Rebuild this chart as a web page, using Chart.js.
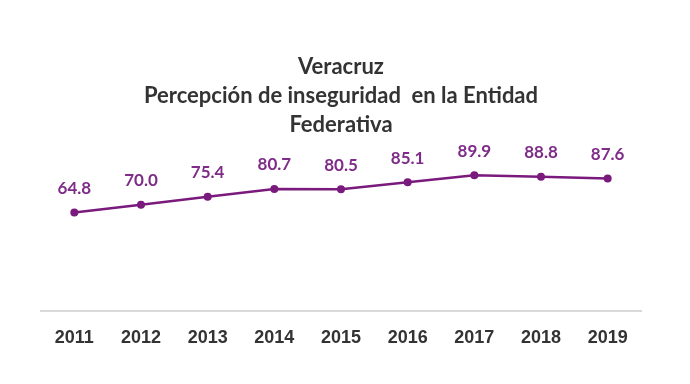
<!DOCTYPE html>
<html>
<head>
<meta charset="utf-8">
<script src="https://cdn.jsdelivr.net/npm/chart.js@4.4.1/dist/chart.umd.min.js"></script>
<style>
  html, body { margin: 0; padding: 0; background: #fff; }
  #wrap { width: 690px; height: 384px; }
</style>
</head>
<body>
<div id="wrap"><canvas id="chart"></canvas></div>
<script>
// chart data
const years = ['2011', '2012', '2013', '2014', '2015', '2016', '2017', '2018', '2019'];
const percepcion = [64.8, 70.0, 75.4, 80.7, 80.5, 85.1, 89.9, 88.8, 87.6];
const titleLines = ['Veracruz', 'Percepción de inseguridad  en la Entidad', 'Federativa'];

const purple = '#7a1a7c';

// simple value labels above each point
const valueLabels = {
  id: 'valueLabels',
  afterDatasetsDraw(chart) {
    const { ctx } = chart;
    const meta = chart.getDatasetMeta(0);
    ctx.save();
    ctx.font = 'bold 17px Lato';
    ctx.fillStyle = '#7e2c88';
    ctx.textAlign = 'center';
    ctx.textBaseline = 'middle';
    meta.data.forEach((pt, i) => {
      ctx.fillText(percepcion[i].toFixed(1), pt.x, pt.y - 24);
    });
    ctx.restore();
  }
};

new Chart(document.getElementById('chart'), {
  type: 'line',
  data: {
    labels: years,
    datasets: [{
      data: percepcion,
      borderColor: purple,
      backgroundColor: purple,
      borderWidth: 2.5,
      pointRadius: 4,
      pointBackgroundColor: purple,
      pointBorderWidth: 0,
      tension: 0
    }]
  },
  options: {
    responsive: true,
    maintainAspectRatio: false,
    animation: false,
    layout: { padding: { left: 41, right: 49, top: 0, bottom: 19 } },
    plugins: {
      legend: { display: false },
      tooltip: { enabled: false },
      title: {
        display: true,
        text: titleLines,
        color: '#333333',
        font: { family: 'Lato', size: 22, weight: 'bold', lineHeight: 1.32 },
        padding: { top: 52, bottom: 21 }
      }
    },
    scales: {
      x: {
        offset: true,
        grid: { display: false, drawTicks: false },
        border: { color: '#d9d9d9', width: 2 },
        ticks: {
          color: '#333333',
          font: { family: 'Liberation Sans', size: 18, weight: 'bold' },
          padding: 16
        }
      },
      y: {
        display: false,
        min: -1.5,
        max: 100
      }
    }
  },
  plugins: [valueLabels]
});
</script>
</body>
</html>
